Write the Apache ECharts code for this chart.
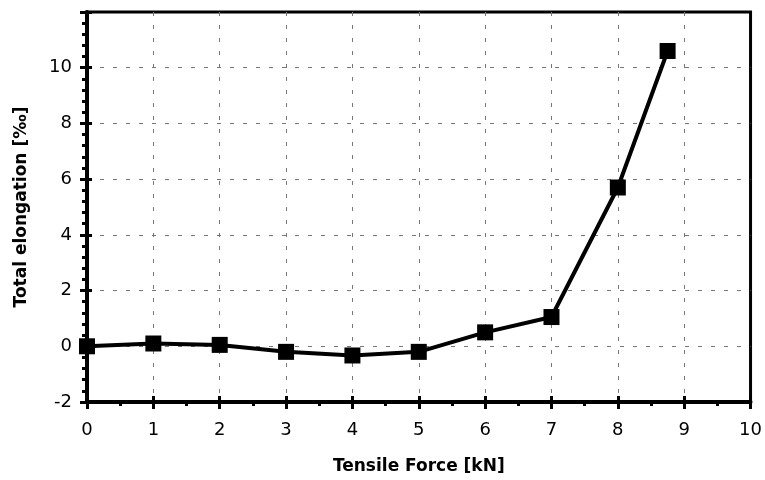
<!DOCTYPE html>
<html>
<head>
<meta charset="utf-8">
<script src="https://cdn.jsdelivr.net/npm/echarts@6/dist/echarts.min.js"></script>
<style>
  html, body { margin: 0; padding: 0; background: #fff; }
  #chart { width: 765px; height: 480px; }
</style>
</head>
<body>
<div id="chart"></div>
<script>
// tensile force [kN] and total elongation [‰]
var force = [0, 1, 2, 3, 4, 5, 6, 7, 8, 8.75];
var elongation = [0, 0.1, 0.05, -0.2, -0.33, -0.2, 0.5, 1.05, 5.7, 10.6];

var chart = echarts.init(document.getElementById('chart'));
var font = 'DejaVu Sans';

var points = force.map(function (f, i) { return [f, elongation[i]]; });

var grid_lines = {
    show: true, showMinLine: false, showMaxLine: false,
    lineStyle: { color: '#777', width: 1, type: [4, 9] }
};

chart.setOption({
    animation: false,
    grid: {
        left: 87, right: 14, top: 12, bottom: 77,
        show: true, borderColor: '#000', borderWidth: 3, backgroundColor: '#fff'
    },
    xAxis: [{
        type: 'value', min: 0, max: 10, interval: 1,
        name: 'Tensile Force [kN]', nameLocation: 'middle', nameGap: 56,
        nameTextStyle: { fontFamily: font, fontSize: 17, fontWeight: 'bold', color: '#000' },
        axisLine: { onZero: false, lineStyle: { color: '#000', width: 4 } },
        axisTick: { length: 7, lineStyle: { color: '#000', width: 3 } },
        minorTick: { show: true, splitNumber: 2, length: 4, lineStyle: { color: '#000', width: 3 } },
        axisLabel: { margin: 19, fontFamily: font, fontSize: 18, color: '#000' },
        splitLine: grid_lines
    }, {
        type: 'value', min: 0, max: 10, interval: 1, position: 'bottom',
        axisLine: { show: false, onZero: false },
        axisTick: { inside: true, length: 6, lineStyle: { color: '#000', width: 3 } },
        axisLabel: { show: false },
        splitLine: { show: false }
    }],
    yAxis: [{
        type: 'value', min: -2, max: 12, interval: 2,
        name: 'Total elongation [‰]', nameLocation: 'middle', nameGap: 57,
        nameTextStyle: { fontFamily: font, fontSize: 17, fontWeight: 'bold', color: '#000' },
        axisLine: { onZero: false, lineStyle: { color: '#000', width: 4 } },
        axisTick: { length: 7, lineStyle: { color: '#000', width: 3 } },
        minorTick: { show: true, splitNumber: 5, length: 5, lineStyle: { color: '#000', width: 3 } },
        axisLabel: {
            margin: 15, fontFamily: font, fontSize: 18, color: '#000',
            formatter: function (v) { return v === 12 ? '' : String(v); }
        },
        splitLine: grid_lines
    }, {
        type: 'value', min: -2, max: 12, interval: 2, position: 'left',
        axisLine: { show: false, onZero: false },
        axisTick: { show: true, inside: true, length: 5, lineStyle: { color: '#000', width: 3 } },
        axisLabel: { show: false },
        splitLine: { show: false }
    }],
    series: [{
        type: 'line',
        data: points,
        symbol: 'rect',
        symbolSize: 16,
        lineStyle: { color: '#000', width: 4 },
        itemStyle: { color: '#000' },
        z: 5
    }]
});
</script>
</body>
</html>
